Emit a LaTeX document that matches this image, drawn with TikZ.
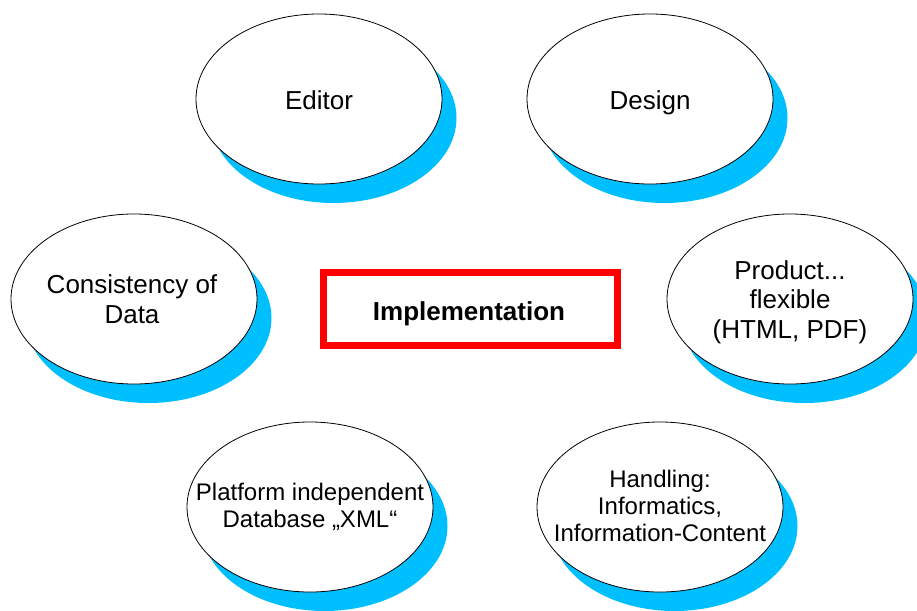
\documentclass[tikz,border=0pt]{standalone}
\usepackage{fontspec}
\setmainfont{Liberation Sans}
\usetikzlibrary{shapes.geometric}
\definecolor{shadowblue}{HTML}{00BFFF}
\definecolor{framered}{HTML}{FF0000}
\begin{document}
\begin{tikzpicture}[x=1pt,y=-1pt,
  bubble/.style={ellipse, draw=black, line width=0.8pt, fill=white,
    minimum width=246pt, minimum height=170pt, inner sep=0pt},
  drop/.style={ellipse, fill=shadowblue,
    minimum width=246pt, minimum height=170pt, inner sep=0pt},
  lbig/.style={font=\fontsize{26}{29.5}\selectfont, align=center, anchor=base, inner sep=0pt},
  lsmall/.style={font=\fontsize{24}{26.8}\selectfont, align=center, anchor=base, inner sep=0pt},
  framebox/.style={draw=framered, line width=7pt, fill=white,
    minimum width=294pt, minimum height=73pt, inner sep=0pt},
  shadowshift/.style={xshift=14.5pt, yshift=-19pt}]
  \useasboundingbox (0,0) rectangle (917,610);

  % Editor
  \node[drop, shadowshift] (editor-s) at (319,99) {};
  \node[bubble] (editor) at (319,99) {};
  \node[lbig] (editor-t) at (319,109) {Editor};

  % Design
  \node[drop, shadowshift] (design-s) at (650,99) {};
  \node[bubble] (design) at (650,99) {};
  \node[lbig] (design-t) at (650,109) {Design};

  % Consistency of Data (base anchor sits on the last line)
  \node[drop, shadowshift] (cons-s) at (134,299) {};
  \node[bubble] (cons) at (134,299) {};
  \node[lbig] (cons-t) at (132,323) {Consistency of\\Data};

  % Product
  \node[drop, shadowshift] (prod-s) at (790,299) {};
  \node[bubble] (prod) at (790,299) {};
  \node[lbig] (prod-t) at (790,338) {Product...\\flexible\\(HTML, PDF)};

  % Platform independent database
  \node[drop, shadowshift] (plat-s) at (310,507) {};
  \node[bubble] (plat) at (310,507) {};
  \node[lsmall] (plat-t) at (310,527) {Platform independent\\Database „XML“};

  % Handling
  \node[drop, shadowshift] (hand-s) at (660,507) {};
  \node[bubble] (hand) at (660,507) {};
  \node[lsmall] (hand-t) at (660,541) {Handling:\\Informatics,\\Information-Content};

  % Central box
  \node[framebox] (impl) at (470.5,309) {};
  \node[lbig, font=\fontsize{26}{29.5}\selectfont\bfseries] (impl-t) at (469,320) {Implementation};
\end{tikzpicture}
\end{document}
